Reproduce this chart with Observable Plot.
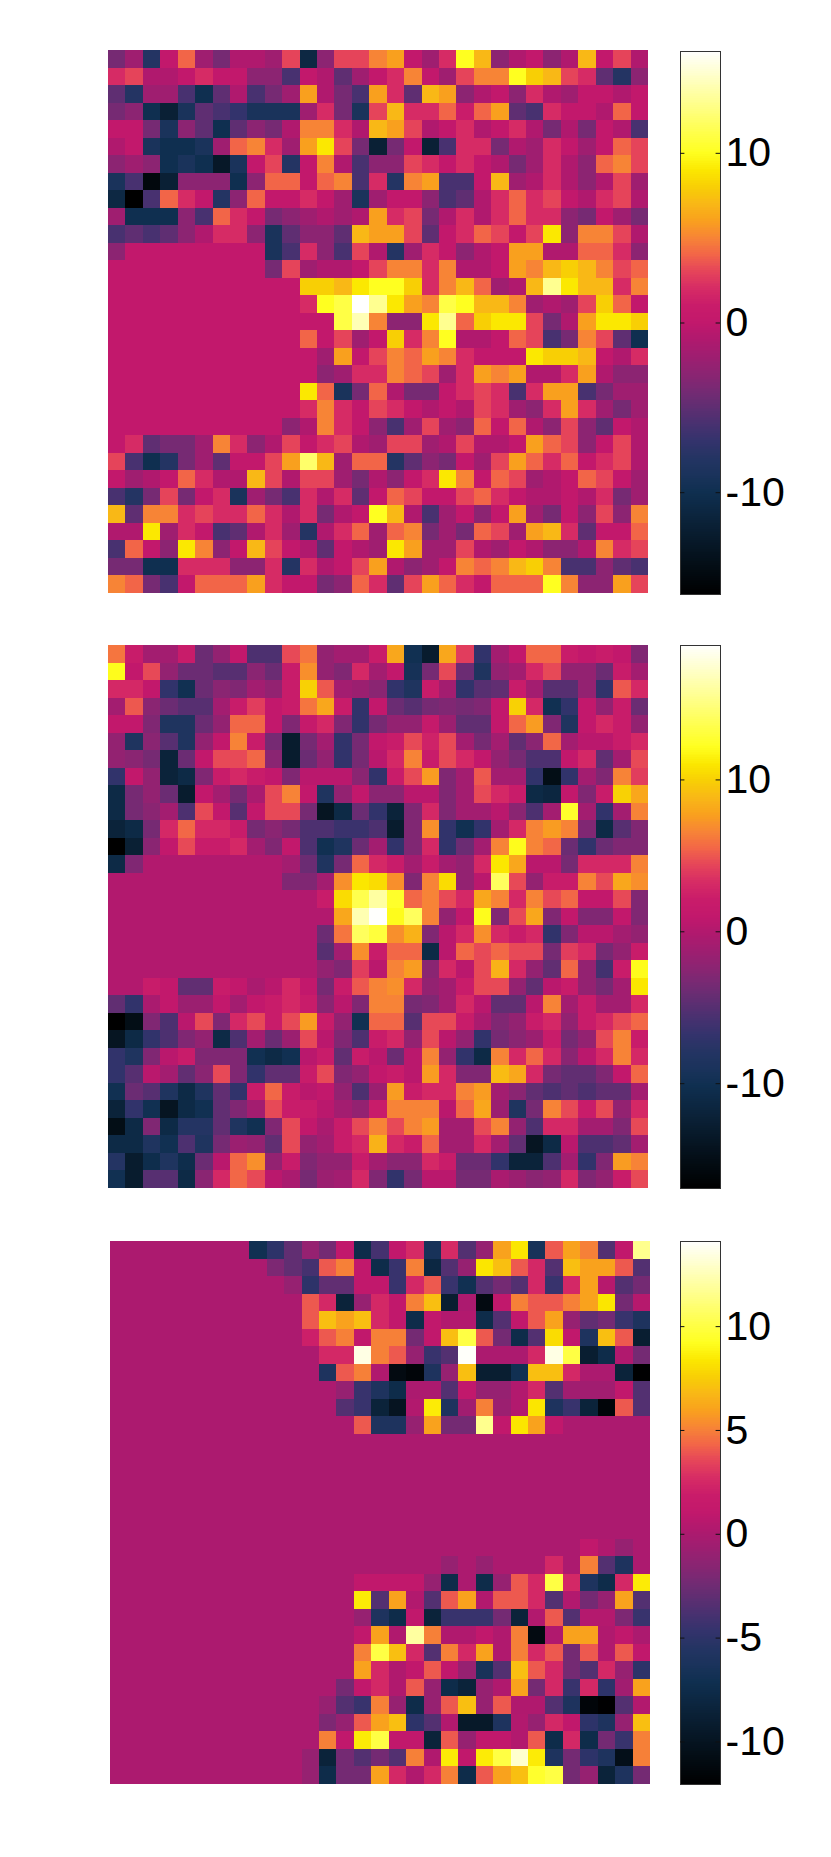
<!DOCTYPE html>
<html>
<head>
<meta charset="utf-8">
<script src="https://cdn.jsdelivr.net/npm/d3@7"></script>
<script src="https://cdn.jsdelivr.net/npm/@observablehq/plot@0.6"></script>
<style>
html,body{margin:0;padding:0;background:#fff}
#page{position:relative;width:831px;height:1857px;overflow:hidden}
#page>div{position:absolute}
svg{display:block}
</style>
</head>
<body>
<div id="page"></div>
<script>
const colormapStops  = [0, .0625, .125, .1875, .219, .25, .281, .3125, .344, .375, .406, .4375, .469, .5, .531, .5625, .594, .625, .656, .6875, .719, .75, .78, .8125, .84, .906, 1];
const colormapColors = ["#000000","#04101a","#0a2035","#0f2f50","#1a335b","#243463","#33336c","#483170","#5f2e72","#762a73","#8c2472","#9f1e70","#b0196e","#c2186c","#c91c6a","#d62b65","#e5445a","#f26548","#f78436","#f9a01e","#f9b816","#f8cf05","#fbe700","#ffff20","#ffff40","#ffff90","#ffffff"];

const panelA = [
[-4,-2,-8,0,4,-2,-4,-1,-1,-2,3,-11,-3,3,3,5,6,0,-2,2,10,7,-3,-1,0,-3,-1,7,0,3,-1],
[2,3,-1,-1,0,2,0,0,-3,-3,-6,0,-1,-5,-2,0,2,5,0,-2,3,5,5,10,8,7,3,2,-5,-8,-3],
[-5,-8,-2,-2,-6,-10,-5,-1,-6,-4,-2,6,-1,-4,-6,6,2,-5,7,6,-3,-1,0,-3,2,-1,-2,0,0,-1,0],
[-4,-3,-10,-12,-9,-5,-6,-7,-9,-9,-9,-2,2,-4,-9,3,7,2,2,4,1,4,6,-5,-6,2,0,0,-1,4,0],
[0,0,-4,-9,-3,-5,-10,-5,-3,-4,-1,5,5,2,-1,7,6,3,-1,0,2,-1,0,2,-1,-4,-1,-4,0,-1,-6],
[-1,0,-9,-10,-10,-9,-2,4,5,2,-2,6,9,3,-4,-12,-4,0,-12,-6,2,2,-4,-1,-2,2,0,-2,0,4,3],
[-3,-2,-3,-10,-9,-10,-13,-9,0,3,-8,0,5,-1,-6,-3,-3,3,2,0,2,0,-1,-4,-2,2,-1,-3,4,5,3],
[-9,-6,-15,-12,-3,-3,-3,-10,-3,4,4,0,4,5,-6,2,-8,5,6,-6,-6,0,7,-2,-1,2,-1,-3,-1,3,-2],
[-11,-16,-6,4,2,0,-8,-3,4,0,0,2,0,-2,-9,-2,0,0,-3,-6,-5,-1,2,4,2,3,0,-1,2,3,-1],
[-2,-10,-10,-10,-3,-6,4,2,0,-4,-3,-2,-1,-2,-1,6,2,3,-4,-1,2,-1,2,4,2,2,-3,-4,0,-2,-4],
[-6,-5,-6,-5,-3,-1,2,2,-3,-9,-5,-3,-3,-5,7,6,6,3,-5,0,2,4,3,0,3,9,-3,5,5,3,-1],
[-3,0,0,0,0,0,0,0,0,-9,-6,2,-3,-6,3,-1,-8,-2,2,0,-3,-1,0,6,6,-1,-1,4,4,2,-3],
[0,0,0,0,0,0,0,0,0,-4,3,-2,-1,-1,0,3,5,5,2,5,-1,-1,0,6,5,7,8,7,5,3,4],
[0,0,0,0,0,0,0,0,0,0,0,8,8,7,9,10,10,8,2,5,7,4,-2,-1,7,13,9,7,7,2,5],
[0,0,0,0,0,0,0,0,0,0,0,2,10,11,16,13,9,6,5,11,10,7,7,5,-2,-1,-2,3,8,4,0],
[0,0,0,0,0,0,0,0,0,0,0,0,0,11,14,5,-3,-3,9,13,4,8,9,9,3,-4,-1,6,9,9,8],
[0,0,0,0,0,0,0,0,0,0,0,4,0,3,-2,0,8,2,5,10,-1,-1,0,4,3,-6,-4,5,3,-5,-10],
[0,0,0,0,0,0,0,0,0,0,0,0,-2,6,0,3,5,4,6,5,2,0,0,0,9,8,8,7,0,-1,2],
[0,0,0,0,0,0,0,0,0,0,0,0,-3,-2,2,2,5,4,3,-2,2,6,5,6,-1,-1,2,6,-1,-3,-3],
[0,0,0,0,0,0,0,0,0,0,0,9,4,-9,-4,4,-1,-4,-4,0,2,3,2,-6,2,6,6,-6,-4,-2,-2],
[0,0,0,0,0,0,0,0,0,0,0,2,5,2,0,3,2,0,-1,0,-1,3,2,-2,-3,2,6,2,-2,-4,-2],
[0,0,0,0,0,0,0,0,0,0,-3,-1,5,2,0,-3,-6,-2,3,-2,-3,4,0,4,-1,-3,3,-3,-5,0,-1],
[0,2,-5,-4,-4,-2,5,2,-3,-1,3,0,2,3,-1,-2,3,3,-2,-1,3,-1,-1,0,6,4,3,-3,0,3,-1],
[3,-6,-10,-8,-4,-2,-5,0,0,3,6,12,7,-2,4,4,-8,-5,-3,-4,0,-2,3,6,4,2,4,0,2,3,-1],
[0,-2,-1,0,4,2,-1,-1,7,3,-1,3,3,-2,-4,-1,-3,0,2,9,5,0,4,3,-2,-1,0,4,3,0,-2],
[-6,-8,-4,3,-4,0,2,-9,-2,-4,-6,2,-1,2,-5,0,4,3,0,0,3,4,2,0,-1,-1,0,-1,2,-4,-2],
[7,-5,5,5,2,3,2,2,4,2,-1,2,-4,-1,0,10,7,-1,-6,-2,0,-3,0,6,-2,-4,0,-3,3,-3,5],
[-1,-1,9,-2,2,0,-6,-5,-1,2,-2,-8,-1,2,4,-2,4,5,-4,-2,-4,4,3,-2,6,7,2,-5,0,0,4],
[-6,4,0,-3,9,5,-3,0,7,3,0,-1,-5,0,-1,-2,9,6,-2,-2,3,-1,-2,0,-1,-3,-3,-1,5,2,3],
[-4,-4,-10,-10,2,2,2,-3,-3,2,-8,2,-1,0,3,6,-1,-3,-2,0,5,4,5,7,8,5,-6,-6,-3,-5,-6],
[5,4,-4,-6,0,4,4,4,6,2,0,0,-4,-3,4,2,-5,3,6,4,2,0,4,4,4,10,5,-3,-3,6,3]
];

const panelB = [
[6,2,-1,-1,2,-4,-2,1,-5.5,-5.5,4.5,6,-2,-1,-1,2,8,-10,-13,8,4,-7,-1,1,5.5,5.5,2,1,2,1,-3],
[12,1,4.5,-2,-4,-4,-5,-5,-2.5,-4,2,7,-2,-3,3,-1,1,-9.5,-3.5,4.5,-4,-8.5,-2,-1,3,4.5,-2,-2,-4,2,-1],
[3,3,1,-7,-10,-4,-2.5,-3,-1,-2,2,10,5,-1,-1.5,-2.5,-7,-8.5,2,-1,-7,-5,-4.5,2,-1,-5,-5,-2,-7,5,3],
[-1,5,-2.5,-4,-5,-5,-1,2,4,1,2,6,8,2,-7,1,-4,-5,-3.5,-3,-3.5,-3,1,10,3,-10,-7,1,-2,2,-4],
[1,1,-3,-8.5,-8.5,-4,-2,5.5,5.5,1,-3,1.5,3,-3,-7,-3.5,-2,-2,1.5,-1.5,-4.5,-4.5,1,5.5,7.5,-3,-8.5,1,3,2,-2],
[-2,-8.5,-2.5,-5,-8.5,-2,1,6.5,2,-3.5,-13,-3.5,-1,-7,-3.5,1,2,4.5,2.5,4.5,-1,-3.5,-1,-4.5,-2.5,5.5,-1,.5,.5,2,3],
[-2,-2.5,-3.5,-12,-4,1,4.5,4.5,5.5,-2.5,-13,-4,-2,-7,-3.5,.5,3,6.5,2,4.5,3,1,-2,-3.5,-5.5,-5.5,1,3,-4.5,-1,4.5],
[-7,1,-2,-12,-11,-3,2,3,2,1,-3,.5,.5,.5,-2.5,-7,2,4.5,7.5,-3,-1,5,-1,-1,-7,-15,-7,-1,-3,6.5,4],
[-11,-3.5,-2,-4,-13,1,-1,-3.5,-.5,4.5,6.5,1,-8.5,-2,1,-2.5,-2.5,.5,.5,-3,-1,4.5,3,2,-11,-11.5,1,-3,2,10,8],
[-11,-3.5,-2.5,-1,-5.5,4.5,1,-5,1,4.5,4.5,-3.5,-14,-11,-4,-7,-12,-3,3,-3,-1,-1,.5,-2.5,-5.5,-1,12.5,-1,-7,-1,6.5],
[-12,-11,-3.5,3,5.5,3,3,2,-3.5,-2.5,-3.5,-5.5,-5.5,-6.5,-6.5,-5.5,-13,-3,7,-7,-10,-7,-1,3,6.5,7.5,6.5,-3,-11,-5,-3],
[-17,-12.5,-2.5,1,4.5,2,2,3,-1,-3,1,-5.5,-10,-8.5,-4,-1,-7,-3,3,-7,-4,-1,6.5,12,6.5,5.5,-4,-7,-4,-3,-3],
[-11,-3,0,0,0,0,0,0,0,0,-1,-4,-8.5,-3.5,5.5,3,2,-1,2,-1,-2,3,11,8,.5,.5,-3.5,3,3,3,6.5],
[0,0,0,0,0,0,0,0,0,0,-3,-3,-1,7,11,10.5,7,-3,6.5,10.5,-2,.5,14,4.5,-2,2,2,6.5,4.5,8,7],
[0,0,0,0,0,0,0,0,0,0,0,0,2,10.5,13.5,16,12.5,5.5,6.5,4.5,3,8,6.5,3,6.5,4.5,5.5,1,1,4.5,-3],
[0,0,0,0,0,0,0,0,0,0,0,0,0,8,16.5,18.8,12,14,6.5,-2,1,12,-3,4.5,8,-3,1,-3,-3,1,-3],
[0,0,0,0,0,0,0,0,0,0,0,0,-4,6,14,13,7,8.5,-3,.5,3,7,3,2,3,-7,-3,.5,.5,-1,-2],
[0,0,0,0,0,0,0,0,0,0,0,0,-5,-1,7,2,5.5,5.5,-11,.5,5.5,4.5,5.5,4.5,4.5,-3.5,4,3,-3.5,-2,2],
[0,0,0,0,0,0,0,0,0,0,0,0,-2,-3,4,.5,6.5,7.5,-2.5,3,.5,4.5,8.5,3,-2,-4.5,5.5,-2,-6,2,12],
[0,0,2,1,-4.5,-4.5,2,1,-.5,.5,3,1,-3.5,2,5,6.5,7,3,-2,-1,2,4.5,4.5,-2,-4.5,.5,2,-2,-3.5,-1,11],
[-4.5,-7,-.5,1,-1.5,-1.5,1,-1,1,2,3,2,-2.5,.5,-3,6.5,6.5,-3.5,-3,-1,3,.5,-4.5,-4.5,.5,6.5,-1,2,-1,-1,3],
[-17,-15,-3,-5.5,.5,4.5,-3,3,4.5,2,4.5,7.5,2,-2,-10,5.5,5.5,-5,4.5,4.5,2,-.5,-3,-2,2,3,-2,2,3,4.5,5.5],
[-14,-11,-7,-5.5,-3,-2,-11,-5.5,-1,-4,-1.5,4.5,.5,-3,-5.5,2,3,-2,4.5,.5,-2,-7,-3.5,-2.5,-1.5,2,-3.5,-2,4.5,6.5,2],
[-7,-8.5,-3,.5,2,-3,-3,-3,-10,-11,-10,.5,2,-4.5,2,.5,-4,.5,6.5,-2,-7,-11,6.5,3,5.5,3,-2.5,.5,3,6.5,3],
[-7,-5,.5,-1,-4.5,-2.5,4.5,-3,-7,-4.5,-4.5,2,4.5,-3,-2,1,2,.5,7.5,3,-3,-3,9,8,3,-3.5,-4.5,-4.5,-3,1,5.5],
[-10,-4,-5,-8.5,-11,-8.5,-4.5,-7,2,5.5,2,.5,1,-2,-5.5,-1.5,7.5,2,3,3,6.5,7.5,-1,-2.5,-4.5,-5.5,-4.5,-5.5,-4.5,-4.5,-1],
[-12,-7,-10,-14,-11,-10,-4.5,-3,-1,4.5,2,2,.5,-1,-2,2,6.5,6.5,6.5,.5,5.5,8,-1.5,-8.5,-3.5,6.5,4.5,2,4.5,-2,3],
[-15,-11,-3,-11,-8,-8,-4.5,-8.5,-10,-3,4.5,1,-.5,2,4.5,6.5,4.5,6.5,7.5,-1,-1,4.5,6.5,-2,-5.5,3,3,-1,-1,-3,4.5],
[-11,-11,-8.5,-10,-5.5,-8.5,-3.5,-1.5,-2,-4.5,4.5,-2,-1,2,3,8.5,3,2,5.5,-1,-1,3,-1,-4.5,-14,-11,.5,-5.5,-5.5,-4.5,-1],
[-8,-13,-10.5,-8.5,-10.5,-4,.5,5.5,7,-2,2,-3,-2,-2,2,-1,-2.5,-2.5,3,2,-4,-4,-7,-12,-12,-5.5,-1,-7,-3,7.5,6.5],
[-10,-13,-5,-5,-11,-2.5,3,5.5,4.5,.5,-.5,-3.5,-1.5,-1,3,-3,-7,-3.5,.5,.5,-3.5,-3.5,-.5,-1.5,-2.5,-2,3,-3,-2,2,4.5]
];

const panelC = [
[0,0,0,0,0,0,0,0,-7,-5,-3,-1,-2.3,1,-7.5,-4,1,2.6,-6.5,2.6,-3.5,-1,6,8.3,-6.5,4,6,5,-3.5,1,11.6],
[0,0,0,0,0,0,0,0,0,-2,-3,-4,4,5,1,-7.5,-4.5,5,-8,-3.5,-1,8.3,7,4,2.5,-3.5,7,6,6,4,-3.5],
[0,0,0,0,0,0,0,0,0,0,-1,-5,-3,-3,1,1,-4.5,2.5,4,-4.5,-7,-3.5,-2.3,-3.5,2.5,-4.5,2.5,6,.5,-3.5,-2.3],
[0,0,0,0,0,0,0,0,0,0,0,4,2.5,-8.5,-1,2.5,1,5,7,-9,0,-11,1,5,4,4,5,6,8.3,-2.3,.5],
[0,0,0,0,0,0,0,0,0,0,0,4,7,6,7,2.5,1,-7.5,1,.3,.3,-7.5,-3.5,1,4,6,-1,-3,-2.3,-4.5,-6],
[0,0,0,0,0,0,0,0,0,0,0,2,4,5,1,5,5,-2.3,1,7,10,4,-2.3,-7.5,-3.5,8,1,-6,7,4,-9],
[0,0,0,0,0,0,0,0,0,0,0,0,2.5,2.5,13.5,5,4,-1,-4.5,-3.5,14,0,0,0,2.5,13.5,10,-9,-7.5,.2,-2.3],
[0,0,0,0,0,0,0,0,0,0,0,0,-6,4,5,.2,-11,-11.5,-6,-1,7,-9,-9,-7,7,7,2.5,0,0,-8.5,-12],
[0,0,0,0,0,0,0,0,0,0,0,0,0,-1,-4.5,-6,-7.5,0,0,-3.5,1,-1,-1,.3,2.5,-3.5,-.5,-.5,-.5,1,-3.5],
[0,0,0,0,0,0,0,0,0,0,0,0,0,-3.5,-4.5,-8.5,-10,.3,8.5,-6,-.5,5,-.8,.3,8.3,-6,-4.5,-8.5,-11.5,4,-3.5],
[0,0,0,0,0,0,0,0,0,0,0,0,0,0,4,-6,-6,-1,6,-2.3,-2.3,11.6,1,8.3,6,1,0,0,0,0,0],
[0,0,0,0,0,0,0,0,0,0,0,0,0,0,0,0,0,0,0,0,0,0,0,0,0,0,0,0,0,0,0],
[0,0,0,0,0,0,0,0,0,0,0,0,0,0,0,0,0,0,0,0,0,0,0,0,0,0,0,0,0,0,0],
[0,0,0,0,0,0,0,0,0,0,0,0,0,0,0,0,0,0,0,0,0,0,0,0,0,0,0,0,0,0,0],
[0,0,0,0,0,0,0,0,0,0,0,0,0,0,0,0,0,0,0,0,0,0,0,0,0,0,0,0,0,0,0],
[0,0,0,0,0,0,0,0,0,0,0,0,0,0,0,0,0,0,0,0,0,0,0,0,0,0,0,0,0,0,0],
[0,0,0,0,0,0,0,0,0,0,0,0,0,0,0,0,0,0,0,0,0,0,0,0,0,0,0,0,0,0,0],
[0,0,0,0,0,0,0,0,0,0,0,0,0,0,0,0,0,0,0,0,0,0,0,0,0,0,0,1,.2,-1,0],
[0,0,0,0,0,0,0,0,0,0,0,0,0,0,0,0,0,0,0,-1,0,-1,0,0,0,2.5,0,5,-3.5,-6,0],
[0,0,0,0,0,0,0,0,0,0,0,0,0,0,1,1,1,1,-1,-7.5,0,-7.5,-1,4,2.5,10,2.5,-6,-7.5,2.5,8.5],
[0,0,0,0,0,0,0,0,0,0,0,0,0,0,8.5,-3.5,6,.3,-3.5,4,6,.3,4,4,2.5,-3.5,.3,-2.3,-1,6,-3.5],
[0,0,0,0,0,0,0,0,0,0,0,0,0,0,-1,-6,-7.5,1,-8.5,-4.5,-4.5,-4.5,-2.3,-8.5,.3,4,-3.5,.4,.4,-2,-4.5],
[0,0,0,0,0,0,0,0,0,0,0,0,0,0,1,6,.2,12,5,.2,.2,1,.2,5,-11,.2,6,6,.2,1,0],
[0,0,0,0,0,0,0,0,0,0,0,0,0,0,5,10,7,2.5,-3.5,5,2.5,6,.2,5,2.5,4,-2.3,4,.2,4,1],
[0,0,0,0,0,0,0,0,0,0,0,0,0,0,6,2.5,.2,1,4,1,-1,-6.5,-3.5,7,4,2.5,-2.3,-3.5,2.5,-1,-5],
[0,0,0,0,0,0,0,0,0,0,0,0,0,-2.3,1,2.5,.2,4,-1,-7.5,-8.5,-1,.2,6,-2.3,2.5,-4.5,2.5,-5,-.5,6],
[0,0,0,0,0,0,0,0,0,0,0,0,-1,-3.5,-4.5,5,-1,-7.5,-1,4,7,-1,4,.2,.2,-3.5,-6,-11.5,-12,-3.5,.3],
[0,0,0,0,0,0,0,0,0,0,0,0,-2,-1,4,6,7,-5,-3.5,.3,-9.5,-9.5,-6,.3,-1,2.5,1,-5,-6,-1,7],
[0,0,0,0,0,0,0,0,0,0,0,0,5,1,8.5,10,1,1,-8.5,4,-1,1,1,.3,4,-7.5,2.5,-7.5,-2.3,-4.5,5],
[0,0,0,0,0,0,0,0,0,0,0,-1,-8.5,-2.3,-3.5,-2.3,-3.5,5,.2,8.5,1,8.5,10,13,8.5,-6,-2.3,-5,-6,-10.5,5],
[0,0,0,0,0,0,0,0,0,0,0,-1,-7.5,-2.3,-2.3,6,2.5,.2,2.5,5,-7.5,4,6,7,9.5,10,-2.3,-1,-8.5,-6,-2.3]
];

const domainA = [-16, 16],      ticksA = [-10, 0, 10];
const domainB = [-16.9, 18.85], ticksB = [-10, 0, 10];
const domainC = [-12.05, 14.1], ticksC = [-10, -5, 0, 5, 10];

const ramp = d3.scaleLinear().domain(colormapStops).range(colormapColors).interpolate(d3.interpolateRgb).clamp(true);
const colormap = (t) => ramp(t);
const font = "'Liberation Sans', Arial, sans-serif";
const page = document.getElementById("page");

function place(node, left, top) {
  const d = document.createElement("div");
  d.style.left = left + "px";
  d.style.top = top + "px";
  d.appendChild(node);
  page.appendChild(d);
}

function heatmap(rows, domain) {
  const cells = rows.flatMap((r, row) => r.map((value, col) => ({row, col, value})));
  const idx = rows.map((_, i) => i);
  return Plot.plot({
    width: 540, height: 543,
    margin: 0,
    x: {type: "band", domain: idx, padding: 0, round: false, axis: null},
    y: {type: "band", domain: idx, padding: 0, round: false, axis: null},
    color: {type: "linear", domain, interpolate: colormap, clamp: true},
    marks: [Plot.cell(cells, {x: "col", y: "row", fill: "value", shapeRendering: "crispEdges"})]
  });
}

function colorbar(domain, ticks) {
  const steps = 300;
  const span = (domain[1] - domain[0]) / steps;
  const bands = d3.range(steps).map(i => domain[0] + i * span);
  return Plot.plot({
    width: 152, height: 545,
    marginLeft: 1, marginRight: 111, marginTop: 1, marginBottom: 1,
    style: {fontFamily: font, background: "transparent", overflow: "visible"},
    x: {domain: [0, 1], axis: null},
    y: {domain, axis: null},
    color: {type: "linear", domain, interpolate: colormap, clamp: true},
    marks: [
      Plot.rect(bands, {x1: 0, x2: 1, y1: d => d, y2: d => d + span * 1.2, fill: d => d + span / 2, shapeRendering: "crispEdges"}),
      Plot.frame({stroke: "#333", strokeWidth: 1}),
      Plot.ruleY(ticks, {x1: 0, x2: 0.11, stroke: "#111", strokeWidth: 1}),
      Plot.ruleY(ticks, {x1: 0.89, x2: 1, stroke: "#111", strokeWidth: 1}),
      Plot.text(ticks, {x: () => 1, y: d => d, text: d => String(d), textAnchor: "start", dx: 5, fontSize: 41, fill: "#000"})
    ]
  });
}

place(heatmap(panelA, domainA), 108, 50);
place(colorbar(domainA, ticksA), 679, 50);
place(heatmap(panelB, domainB), 108, 645);
place(colorbar(domainB, ticksB), 679, 644);
place(heatmap(panelC, domainC), 109.5, 1241);
place(colorbar(domainC, ticksC), 679, 1240);
</script>
</body>
</html>
